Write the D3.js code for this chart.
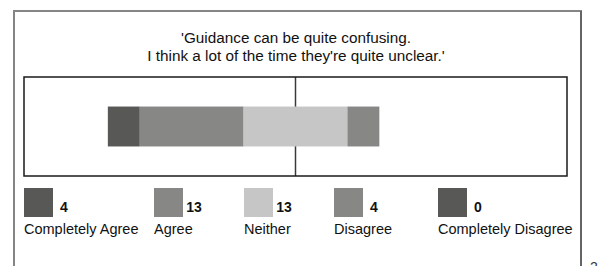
<!DOCTYPE html>
<html>
<head>
<meta charset="utf-8">
<script src="https://cdn.jsdelivr.net/npm/d3@7"></script>
<style>
	body { margin: 0; background: #fff; }
	svg { display: block; font-family: 'Liberation Sans', Arial, sans-serif; }
</style>
</head>
<body>
<div id="content"></div>
<script>
var categories = ['Completely Agree', 'Agree', 'Neither', 'Disagree', 'Completely Disagree'];
var counts = [4, 13, 13, 4, 0];
var titleLines = ["'Guidance can be quite confusing.", "I think a lot of the time they're quite unclear.'"];
var pageNumber = '2';

var shades = ['#585856', '#878786', '#c6c6c6', '#878786', '#585856'];

function showChart()
{
	var w = 605, h = 266;
	var svg = d3.select('#content').append('svg').attr('width', w).attr('height', h);

	// outer frame
	svg.append('rect').attr('x', 14).attr('y', 11).attr('width', 567).attr('height', 280)
		.attr('fill', 'none').attr('stroke', '#858585').attr('stroke-width', 2);
	svg.append('line').attr('x1', 581).attr('x2', 581).attr('y1', 11).attr('y2', h)
		.attr('stroke', '#444').attr('stroke-width', 1);

	svg.append('text').attr('x', 590).attr('y', 272).attr('font-size', 14).attr('fill', '#333').text(pageNumber);

	// title
	svg.selectAll('.title').data(titleLines).enter().append('text')
		.attr('class', 'title')
		.attr('x', 296)
		.attr('y', (d, i) => 43 + 17.5 * i)
		.attr('text-anchor', 'middle')
		.attr('font-size', 15.3)
		.attr('fill', '#111')
		.text(d => d);

	// diverging stacked bar, neutral centred on zero
	var total = d3.sum(counts);
	var box = {left: 24, right: 567, top: 77, bottom: 176};
	var x = d3.scaleLinear().domain([-total, total]).range([box.left, box.right]);
	var y = d3.scaleBand().domain(['q']).range([box.top, box.bottom]).paddingInner(0).paddingOuter(0.74);

	var start = -(counts[0] + counts[1] + counts[2] / 2);
	var segs = [];
	for (var i = 0; i < counts.length; i++)
	{
		segs.push({name: categories[i], x0: start, x1: start + counts[i], colour: shades[i]});
		start += counts[i];
	}

	svg.append('line').attr('x1', x(0)).attr('x2', x(0)).attr('y1', box.top).attr('y2', box.bottom)
		.attr('stroke', '#3a3a3a').attr('stroke-width', 1.5);

	svg.append('g').selectAll('rect').data(segs).enter().append('rect')
		.attr('x', d => x(d.x0))
		.attr('width', d => x(d.x1) - x(d.x0))
		.attr('y', y('q'))
		.attr('height', y.bandwidth())
		.attr('fill', d => d.colour);

	svg.append('rect').attr('x', box.left).attr('y', box.top)
		.attr('width', box.right - box.left).attr('height', box.bottom - box.top)
		.attr('fill', 'none').attr('stroke', '#1a1a1a').attr('stroke-width', 1.5);

	// legend
	var lx = d3.scaleOrdinal().domain(categories).range([24, 154, 244, 334, 438]);
	var items = svg.append('g').selectAll('g').data(categories).enter().append('g')
		.attr('transform', d => 'translate(' + lx(d) + ',188)');
	items.append('rect').attr('width', 29).attr('height', 29).attr('fill', (d, i) => shades[i]);
	items.append('text').attr('x', 40).attr('y', 24).attr('text-anchor', 'middle')
		.attr('font-size', 14).attr('font-weight', 'bold').attr('fill', '#111')
		.text((d, i) => counts[i]);
	items.append('text').attr('x', 0).attr('y', 46)
		.attr('font-size', 14.5).attr('fill', '#111')
		.text(d => d);
}

showChart();
</script>
</body>
</html>
